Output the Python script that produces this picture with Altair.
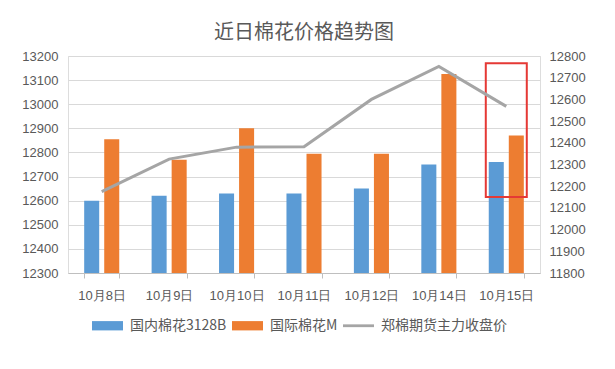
import altair as alt
import pandas as pd

# ---- data ----
dates = ["10月8日", "10月9日", "10月10日", "10月11日", "10月12日", "10月14日", "10月15日"]
domestic = [12600, 12620, 12630, 12630, 12650, 12750, 12760]      # 国内棉花3128B (left axis)
intl = [12855, 12770, 12900, 12795, 12795, 13125, 12870]          # 国际棉花M (left axis)
futures = [12175, 12325, 12380, 12382, 12600, 12752, 12568]       # 郑棉期货主力收盘价 (right axis)
series = ["国内棉花3128B", "国际棉花M", "郑棉期货主力收盘价"]
colors = ["#5b9bd5", "#ed7d31", "#a5a5a5"]
left_ticks = [12300, 12400, 12500, 12600, 12700, 12800, 12900, 13000, 13100, 13200]
right_ticks = [11800, 11900, 12000, 12100, 12200, 12300, 12400, 12500, 12600, 12700, 12800]
highlight_date = ["10月15日"]
highlight_low = [12615]
highlight_high = [13170]
title_text = "近日棉花价格趋势图"

bars_df = pd.DataFrame({
    "date": dates * 2,
    "series": [series[0]] * len(dates) + [series[1]] * len(dates),
    "value": domestic + intl,
    "base": [left_ticks[0]] * (2 * len(dates)),
})
line_df = pd.DataFrame({"date": dates, "value": futures})
rect_df = pd.DataFrame({"date": highlight_date, "value": highlight_low, "hi": highlight_high})

FONT = "Noto Sans CJK SC"
TXT = "#595959"

xenc = alt.X(
    "date:N", sort=dates,
    scale=alt.Scale(paddingInner=0.48, paddingOuter=0.24),
    axis=alt.Axis(title=None, labelAngle=0, tickBand="extent", ticks=True, tickSize=5,
                  tickColor="#bfbfbf", domainColor="#bfbfbf", labelColor=TXT,
                  labelFontSize=13, labelPadding=11, grid=False),
)

left_axis = alt.Axis(title=None, values=left_ticks, ticks=False, domain=False, grid=True,
                     gridColor="#d9d9d9", labelColor=TXT, labelFontSize=13, labelPadding=10,
                     minExtent=50, maxExtent=50, format="d")
left_scale = alt.Scale(domain=[left_ticks[0], left_ticks[-1]], nice=False, zero=False)

sym_expr = ("datum.value === '" + series[2] + "' ? 'M-1,-0.09H1V0.09H-1Z' : 'M-1,-0.3H1V0.3H-1Z'")

bars = alt.Chart(bars_df).mark_bar().encode(
    x=xenc,
    xOffset=alt.XOffset("series:N", sort=series[:2], scale=alt.Scale(paddingInner=0.25)),
    y=alt.Y("value:Q", scale=left_scale, axis=left_axis),
    y2="base:Q",
    color=alt.Color(
        "series:N",
        scale=alt.Scale(domain=series, range=colors),
        legend=alt.Legend(
            title=None, orient="none", direction="horizontal", legendX=24, legendY=254,
            symbolType=alt.ExprRef(expr=sym_expr), symbolSize=961, symbolStrokeWidth=0,
            labelFontSize=14, labelColor=TXT, labelFont=FONT, labelOffset=7, columnPadding=5,
            labelLimit=300,
        ),
    ),
)

rect = alt.Chart(rect_df).mark_bar(filled=False, stroke="#e53935", strokeWidth=2, width=41).encode(
    x=alt.X("date:N", sort=dates),
    y=alt.Y("value:Q", scale=left_scale, axis=left_axis),
    y2="hi:Q",
)

line = alt.Chart(line_df).mark_line(color=colors[2], strokeWidth=3).encode(
    x=alt.X("date:N", sort=dates),
    y=alt.Y(
        "value:Q",
        scale=alt.Scale(domain=[right_ticks[0], right_ticks[-1]], nice=False, zero=False),
        axis=alt.Axis(title=None, orient="right", values=right_ticks, ticks=False, domain=False,
                      grid=False, labelColor=TXT, labelFontSize=13, labelPadding=9, format="d"),
    ),
)

chart = alt.layer(alt.layer(bars, rect), line).resolve_scale(y="independent").properties(
    width=472, height=217,
    title=alt.TitleParams(text=title_text, fontSize=20, font=FONT, color=TXT,
                          fontWeight="normal", offset=7, anchor="middle"),
    padding={"left": 10, "top": 15, "right": 5, "bottom": 5},
).configure_view(stroke=None).configure_axis(labelFont=FONT).configure(background="white")

chart.save("out.html", embed_options={"renderer": "svg", "actions": False})
